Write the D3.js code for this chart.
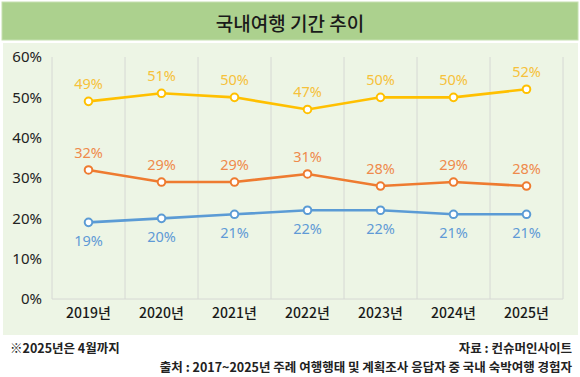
<!DOCTYPE html>
<html>
<head>
<meta charset="utf-8">
<script src="https://cdn.jsdelivr.net/npm/d3@7"></script>
<style>
  body { margin: 0; background: #fff; }
  text { font-family: 'Noto Sans CJK KR', 'Noto Sans', sans-serif; }
</style>
</head>
<body>
<div id="graph"></div>
<script>
const w = 580;
const h = 377;

const years = ['2019년', '2020년', '2021년', '2022년', '2023년', '2024년', '2025년'];
const yellowVals = [49, 51, 50, 47, 50, 50, 52];
const orangeVals = [32, 29, 29, 31, 28, 29, 28];
const blueVals = [19, 20, 21, 22, 22, 21, 21];
const yTicks = [0, 10, 20, 30, 40, 50, 60];

const series = [
  { vals: yellowVals, line: '#ffc000', label: '#f6c13a', above: true },
  { vals: orangeVals, line: '#ee7b30', label: '#ef8a4c', above: true },
  { vals: blueVals, line: '#5b9bd5', label: '#5f9ad6', above: false }
];

const svg = d3.select('#graph')
              .append('svg')
              .attr('width', w)
              .attr('height', h);

// title bar
svg.append('rect')
   .attr('x', 2).attr('y', 2)
   .attr('width', 576).attr('height', 38)
   .attr('fill', '#acd18e')
   .attr('stroke', '#c5e0b0');

svg.append('text')
   .attr('x', 290).attr('y', 22)
   .attr('text-anchor', 'middle')
   .attr('dominant-baseline', 'central')
   .style('font-size', '19px')
   .style('font-weight', '500')
   .style('fill', '#1a1a1a')
   .text('국내여행 기간 추이');

// chart panel
svg.append('rect')
   .attr('x', 3).attr('y', 43)
   .attr('width', 575).attr('height', 292)
   .attr('fill', '#edf5e5');

const xScale = d3.scaleBand()
                 .domain(years)
                 .range([52, 563]);

const yScale = d3.scaleLinear()
                 .domain([0, 60])
                 .range([299, 57]);

// vertical gridlines at band edges
const edges = years.map(d => xScale(d)).concat([xScale.range()[1]]);
svg.selectAll('.vgrid')
   .data(edges)
   .enter()
   .append('line')
   .attr('x1', d => d).attr('x2', d => d)
   .attr('y1', 57).attr('y2', 299)
   .attr('stroke', '#d6d8d4')
   .attr('stroke-width', 1);

svg.append('line')
   .attr('x1', 52).attr('x2', 563)
   .attr('y1', 299).attr('y2', 299)
   .attr('stroke', '#d6d8d4');

// y axis
const yAxis = svg.append('g')
   .attr('transform', 'translate(52,0)')
   .call(d3.axisLeft(yScale).tickValues(yTicks).tickSize(0).tickPadding(10).tickFormat(d => d + '%'));
yAxis.select('.domain').remove();
yAxis.selectAll('text')
     .style('font-family', "'Noto Sans', sans-serif")
     .style('font-size', '15px')
     .style('fill', '#222');

// x axis
const xAxis = svg.append('g')
   .attr('transform', 'translate(0,299)')
   .call(d3.axisBottom(xScale).tickSize(0).tickPadding(9));
xAxis.select('.domain').remove();
xAxis.selectAll('text')
     .style('font-family', "'Noto Sans CJK KR', sans-serif")
     .style('font-size', '14px')
     .style('font-weight', '500')
     .style('fill', '#1a1a1a');

const cx = d => xScale(d) + xScale.bandwidth() / 2;

series.forEach(function (s) {
  const pts = years.map((y, i) => [y, s.vals[i]]);

  svg.append('path')
     .datum(pts)
     .attr('fill', 'none')
     .attr('stroke', s.line)
     .attr('stroke-width', 2.6)
     .attr('d', d3.line()
                  .x(d => cx(d[0]))
                  .y(d => yScale(d[1])));

  svg.selectAll(null)
     .data(pts)
     .enter()
     .append('circle')
     .attr('cx', d => cx(d[0]))
     .attr('cy', d => yScale(d[1]))
     .attr('r', 3.8)
     .attr('fill', '#fff')
     .attr('stroke', s.line)
     .attr('stroke-width', 2);

  svg.selectAll(null)
     .data(pts)
     .enter()
     .append('text')
     .attr('x', d => cx(d[0]))
     .attr('y', d => yScale(d[1]) + (s.above ? -18 : 18))
     .attr('text-anchor', 'middle')
     .attr('dominant-baseline', 'central')
     .style('font-family', "'Noto Sans', sans-serif")
     .style('font-size', '14.5px')
     .style('fill', s.label)
     .text(d => d[1] + '%');
});

// footer
svg.append('text')
   .attr('x', 10).attr('y', 347)
   .attr('dominant-baseline', 'central')
   .style('font-size', '12.5px')
   .style('font-weight', 'bold')
   .style('fill', '#222')
   .text('※2025년은 4월까지');

svg.append('text')
   .attr('x', 572).attr('y', 347)
   .attr('text-anchor', 'end')
   .attr('dominant-baseline', 'central')
   .style('font-size', '12.5px')
   .style('font-weight', 'bold')
   .style('fill', '#222')
   .text('자료 : 컨슈머인사이트');

svg.append('text')
   .attr('x', 572).attr('y', 366)
   .attr('text-anchor', 'end')
   .attr('dominant-baseline', 'central')
   .style('font-size', '12.5px')
   .style('font-weight', 'bold')
   .style('fill', '#222')
   .text('출처 : 2017~2025년 주례 여행행태 및 계획조사 응답자 중 국내 숙박여행 경험자');
</script>
</body>
</html>
